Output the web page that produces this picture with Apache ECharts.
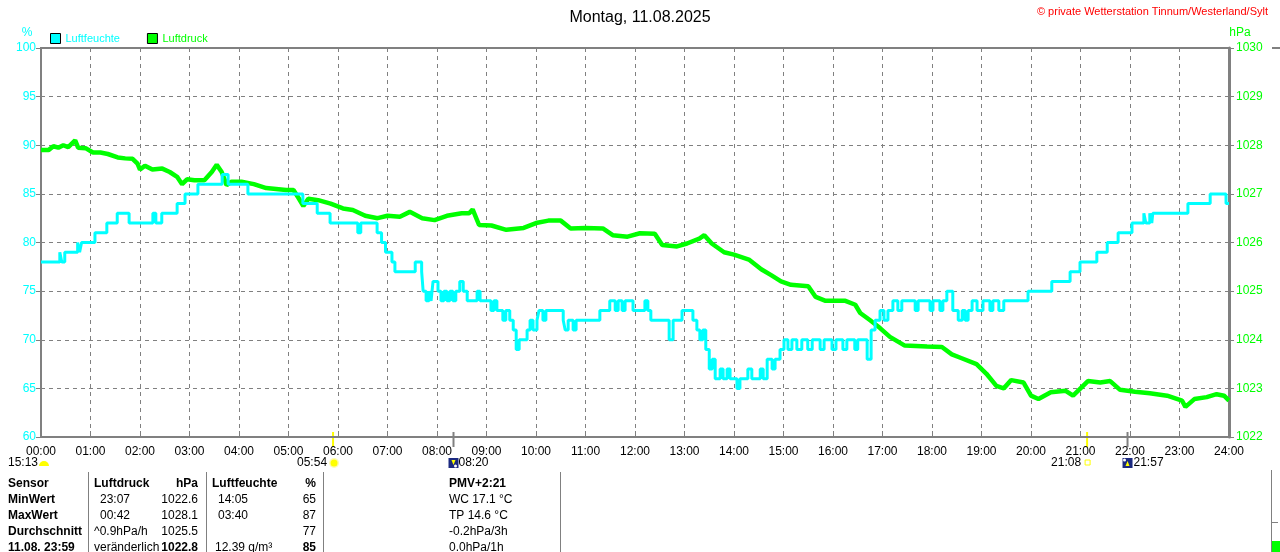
<!DOCTYPE html>
<html>
<head>
<meta charset="utf-8">
<title>Wetterstation Tinnum - Luftdruck / Luftfeuchte</title>
<script src="https://cdn.jsdelivr.net/npm/echarts@6.0.0/dist/echarts.min.js"></script>
<style>html,body{margin:0;padding:0;background:#fff;}</style>
</head>
<body>
<div id="main" style="width:1280px;height:552px;"></div>
<script type="text/javascript">
// Achsen-Beschriftung
var stunden = ['00:00','01:00','02:00','03:00','04:00','05:00','06:00','07:00','08:00','09:00','10:00','11:00','12:00',
  '13:00','14:00','15:00','16:00','17:00','18:00','19:00','20:00','21:00','22:00','23:00','24:00'];

// Luftfeuchte in %, [Stunde, Wert], Wert gilt bis zum naechsten Punkt
var feuchte = [
  [0,78],[0.38,79],[0.42,78],[0.48,79],[0.74,80],[0.78,79],[0.82,80],[1.09,81],[1.33,82],[1.54,83],[1.78,82],
  [2.26,83],[2.32,82],[2.44,83],[2.75,84],[2.91,85],[3.17,86],[3.66,87],[3.78,86],[4.18,85],[5.29,84],[5.58,83],
  [5.84,82],[6.40,81],[6.46,82],[6.79,81],[6.88,80],[6.96,79],[7.09,78],[7.15,77],[7.56,78],[7.69,77],[7.72,75],
  [7.78,74],[7.84,75],[7.88,74],[7.92,76],[8.02,75],[8.08,74],[8.14,75],[8.20,74],[8.26,75],[8.32,74],[8.38,75],
  [8.46,76],[8.53,75],[8.61,74],[8.81,75],[8.87,74],[9.09,73],[9.15,74],[9.21,73],[9.33,72],[9.39,73],[9.47,72],
  [9.54,71],[9.60,69],[9.66,70],[9.82,71],[9.88,72],[9.94,71],[10.02,72],[10.06,73],[10.14,72],[10.20,73],
  [10.55,72],[10.59,71],[10.65,72],[10.75,71],[10.81,72],[11.29,73],[11.49,74],[11.60,73],[11.66,74],[11.74,73],
  [11.80,74],[11.96,73],[12.20,74],[12.26,73],[12.32,72],[12.69,70],[12.77,72],[12.95,73],[13.17,72],[13.25,71],
  [13.31,70],[13.37,71],[13.43,69],[13.50,67],[13.56,68],[13.62,66],[13.72,67],[13.78,66],[13.86,67],[13.92,66],
  [14.06,65],[14.12,66],[14.28,67],[14.36,66],[14.53,67],[14.59,66],[14.67,68],[14.77,67],[14.83,68],[14.93,69],
  [15.01,70],[15.09,69],[15.17,70],[15.27,69],[15.37,70],[15.49,69],[15.58,70],[15.74,69],[15.82,70],[15.98,69],
  [16.06,70],[16.20,69],[16.28,70],[16.44,69],[16.50,70],[16.69,68],[16.77,71],[16.85,72],[16.95,73],[17.03,72],
  [17.11,73],[17.21,74],[17.31,73],[17.39,74],[17.66,73],[17.72,74],[17.96,73],[18.02,74],[18.16,73],[18.22,74],
  [18.30,75],[18.42,73],[18.53,72],[18.61,73],[18.67,72],[18.73,73],[18.81,74],[18.91,73],[19.03,74],[19.17,73],
  [19.23,74],[19.35,73],[19.45,74],[19.94,75],[20.42,76],[20.79,77],[20.99,78],[21.33,79],[21.54,80],[21.76,81],
  [22.04,82],[22.28,83],[22.32,82],[22.40,83],[22.44,82],[22.46,83],[23.17,84],[23.62,85],[23.94,84],[24,84]
];

// Luftdruck in hPa, [Stunde, Wert]
var luftdruck = [
  [0,1027.90],[0.15,1027.90],[0.25,1027.98],[0.35,1027.95],[0.45,1028.00],[0.55,1027.96],[0.69,1028.10],
  [0.75,1027.95],[0.90,1027.94],[1.05,1027.85],[1.20,1027.85],[1.35,1027.82],[1.55,1027.75],[1.70,1027.73],
  [1.85,1027.72],[1.95,1027.62],[2.00,1027.50],[2.10,1027.58],[2.25,1027.50],[2.45,1027.52],[2.60,1027.45],
  [2.75,1027.35],[2.85,1027.20],[2.95,1027.30],[3.10,1027.28],[3.30,1027.28],[3.45,1027.45],[3.55,1027.60],
  [3.65,1027.45],[3.75,1027.18],[3.85,1027.25],[4.05,1027.25],[4.30,1027.20],[4.55,1027.12],[4.75,1027.10],
  [4.95,1027.08],[5.10,1027.08],[5.20,1026.92],[5.30,1026.75],[5.40,1026.90],[5.60,1026.87],[5.85,1026.80],
  [6.10,1026.70],[6.30,1026.67],[6.55,1026.55],[6.80,1026.50],[7.00,1026.55],[7.25,1026.53],[7.45,1026.63],
  [7.70,1026.50],[7.95,1026.46],[8.20,1026.55],[8.50,1026.60],[8.65,1026.60],[8.72,1026.68],[8.85,1026.36],
  [9.10,1026.35],[9.40,1026.26],[9.75,1026.30],[10.00,1026.40],[10.25,1026.45],[10.50,1026.45],[10.70,1026.29],
  [11.00,1026.30],[11.35,1026.29],[11.55,1026.15],[11.85,1026.12],[12.10,1026.19],[12.40,1026.18],[12.55,1025.95],
  [12.85,1025.92],[13.05,1025.98],[13.30,1026.08],[13.40,1026.15],[13.55,1025.98],[13.80,1025.80],[14.00,1025.75],
  [14.30,1025.65],[14.55,1025.45],[14.75,1025.33],[14.95,1025.20],[15.15,1025.13],[15.50,1025.10],[15.65,1024.88],
  [15.85,1024.80],[16.25,1024.80],[16.45,1024.72],[16.55,1024.55],[16.75,1024.40],[16.95,1024.24],[17.15,1024.06],
  [17.45,1023.88],[17.90,1023.86],[18.20,1023.85],[18.40,1023.70],[18.60,1023.62],[18.90,1023.50],[19.10,1023.30],
  [19.30,1023.05],[19.45,1023.00],[19.60,1023.17],[19.85,1023.12],[20.00,1022.85],[20.15,1022.78],[20.40,1022.92],
  [20.70,1022.95],[20.85,1022.85],[21.00,1023.00],[21.15,1023.15],[21.40,1023.12],[21.60,1023.15],[21.80,1022.97],
  [22.10,1022.93],[22.40,1022.90],[22.75,1022.85],[23.05,1022.75],[23.12,1022.62],[23.30,1022.78],[23.55,1022.82],
  [23.75,1022.88],[23.90,1022.85],[24,1022.75]
];

// Sonne / Mond Zeiten unter der Zeitachse
var ereignisZeit = ['05:54', '08:20', '21:08', '21:57'];

// Tabelle unten
var tabKopf   = ['Sensor', 'Luftdruck', 'hPa', 'Luftfeuchte', '%', 'PMV+2:21'];
var tabMin    = ['MinWert', '23:07', '1022.6', '14:05', '65', 'WC 17.1 °C'];
var tabMax    = ['MaxWert', '00:42', '1028.1', '03:40', '87', 'TP 14.6 °C'];
var tabMittel = ['Durchschnitt', '^0.9hPa/h', '1025.5', '', '77', '-0.2hPa/3h'];
var tabAktuell = ['11.08. 23:59', 'veränderlich', '1022.8', '12.39 g/m³', '85', '0.0hPa/1h'];

var CYAN = '#00ffff', GRUEN = '#00ff00', GRAU = '#808080';
var FONT = 'Liberation Sans';

var myChart = echarts.init(document.getElementById('main'));

var option = {
  animation: false,
  backgroundColor: '#ffffff',
  title: {
    text: 'Montag, 11.08.2025',
    left: 'center',
    top: 5,
    textStyle: {color: '#000', fontSize: 16, fontWeight: 'normal', fontFamily: FONT}
  },
  legend: {
    left: 45,
    top: 28,
    itemWidth: 10,
    itemHeight: 10,
    itemGap: 27,
    icon: 'rect',
    textStyle: {fontSize: 11, fontFamily: FONT},
    data: [
      {name: 'Luftfeuchte', textStyle: {color: CYAN}, itemStyle: {color: CYAN, borderColor: '#000', borderWidth: 1}},
      {name: 'Luftdruck', textStyle: {color: GRUEN}, itemStyle: {color: GRUEN, borderColor: '#000', borderWidth: 1}}
    ]
  },
  grid: {
    left: 41, right: 51, top: 48, bottom: 115,
    containLabel: false,
    outerBoundsMode: 'none',
    show: true,
    borderColor: GRAU,
    borderWidth: 2
  },
  xAxis: {
    type: 'value',
    min: 0, max: 24, interval: 1,
    axisLine: {lineStyle: {color: GRAU, width: 2}},
    axisTick: {show: true, inside: true, length: 6, lineStyle: {color: GRAU}},
    axisLabel: {
      color: '#000', fontSize: 12, fontFamily: FONT, margin: 9,
      formatter: function (v) { return stunden[v]; }
    },
    splitLine: {show: true, lineStyle: {color: GRAU, type: [4, 4], width: 1}}
  },
  yAxis: [
    {
      type: 'value',
      min: 60, max: 100, interval: 5,
      position: 'left',
      axisLine: {show: true, lineStyle: {color: GRAU, width: 2}},
      axisTick: {show: true, length: 5, lineStyle: {color: GRAU}},
      axisLabel: {color: CYAN, fontSize: 12, fontFamily: FONT, margin: 5},
      splitLine: {show: true, lineStyle: {color: GRAU, type: [4, 4], width: 1}}
    },
    {
      type: 'value',
      min: 1022, max: 1030, interval: 1,
      position: 'right',
      axisLine: {show: true, lineStyle: {color: GRAU, width: 3}},
      axisTick: {show: true, length: 5, lineStyle: {color: GRAU}},
      axisLabel: {color: GRUEN, fontSize: 12, fontFamily: FONT, margin: 7,
        formatter: function (v) { return String(v); }},
      splitLine: {show: false}
    }
  ],
  series: [
    {
      name: 'Luftdruck',
      type: 'line',
      yAxisIndex: 1,
      data: luftdruck,
      showSymbol: false,
      smooth: false,
      color: GRUEN,
      lineStyle: {color: GRUEN, width: 4.5}
    },
    {
      name: 'Luftfeuchte',
      type: 'line',
      yAxisIndex: 0,
      data: feuchte,
      step: 'end',
      showSymbol: false,
      color: CYAN,
      lineStyle: {color: CYAN, width: 3}
    }
  ]
};

myChart.setOption(option);

function zuStunde(s) {
  var p = s.split(':');
  return +p[0] + (+p[1]) / 60;
}

function txt(x, y, s, opt) {
  opt = opt || {};
  return {
    type: 'text', x: x, y: y, silent: true,
    style: {
      text: s, fill: opt.color || '#000',
      font: (opt.bold ? 'bold ' : '') + (opt.size || 12) + 'px "' + FONT + '"',
      textAlign: opt.align || 'left', textVerticalAlign: 'middle'
    }
  };
}

var grafik = [];

// Achsen-Einheiten und Copyright
grafik.push(txt(27, 33, '%', {color: CYAN, align: 'center'}));
grafik.push(txt(1240, 33, 'hPa', {color: GRUEN, align: 'center'}));
grafik.push(txt(1268, 12, '© private Wetterstation Tinnum/Westerland/Sylt', {color: '#ff0000', size: 11, align: 'right'}));

// Sonne / Mond Marker
var mx = ereignisZeit.map(function (z) { return myChart.convertToPixel({xAxisIndex: 0}, zuStunde(z)); });
var markerFarbe = ['#ffff00', GRAU, '#ffff00', GRAU];
mx.forEach(function (x, i) {
  grafik.push({type: 'line', silent: true, shape: {x1: x, y1: 432, x2: x, y2: 447},
    style: {stroke: markerFarbe[i], lineWidth: 2}});
});
// 15:13 (links)
grafik.push(txt(8, 463, '15:13'));
grafik.push({type: 'sector', silent: true, shape: {cx: 44, cy: 466, r0: 0, r: 5, startAngle: Math.PI, endAngle: 2 * Math.PI},
  style: {fill: '#ffff00'}});
// 05:54 Sonnenaufgang
grafik.push(txt(mx[0] - 6, 463, ereignisZeit[0], {align: 'right'}));
grafik.push({type: 'circle', silent: true, shape: {cx: mx[0] + 1, cy: 463, r: 5}, style: {fill: '#fffbb0'}});
grafik.push({type: 'circle', silent: true, shape: {cx: mx[0] + 1, cy: 463, r: 3.5}, style: {fill: '#ffff00'}});
// 08:20 Mond
grafik.push({type: 'rect', silent: true, shape: {x: mx[1] - 5, y: 458, width: 10, height: 10}, style: {fill: '#1c2a80'}});
grafik.push({type: 'polygon', silent: true, shape: {points: [[mx[1] - 2, 460], [mx[1] + 2, 460], [mx[1], 465]]}, style: {fill: '#ffff00'}});
grafik.push({type: 'circle', silent: true, shape: {cx: mx[1] + 2, cy: 466, r: 1.5}, style: {fill: '#ffffff'}});
grafik.push(txt(mx[1] + 5, 463, ereignisZeit[1]));
// 21:08 Sonnenuntergang
grafik.push(txt(mx[2] - 6, 463, ereignisZeit[2], {align: 'right'}));
grafik.push({type: 'rect', silent: true, shape: {x: mx[2] - 2, y: 460, width: 5, height: 5}, style: {fill: 'none', stroke: '#ffff00', lineWidth: 1}});
// 21:57 Mondaufgang
grafik.push({type: 'rect', silent: true, shape: {x: mx[3] - 5, y: 458, width: 10, height: 10}, style: {fill: '#1c2a80'}});
grafik.push({type: 'polygon', silent: true, shape: {points: [[mx[3] - 2, 466], [mx[3] + 2, 466], [mx[3], 461]]}, style: {fill: '#ffff00'}});
grafik.push({type: 'circle', silent: true, shape: {cx: mx[3] - 3, cy: 460, r: 1.5}, style: {fill: '#ffffff'}});
grafik.push(txt(mx[3] + 6, 463, ereignisZeit[3]));

// Tabelle
var zeilenY = [484, 500, 516, 532, 548];
var zeilen = [tabKopf, tabMin, tabMax, tabMittel, tabAktuell];
zeilen.forEach(function (z, i) {
  var y = zeilenY[i];
  var kopf = i === 0, akt = i === 4;
  grafik.push(txt(8, y, z[0], {bold: true}));
  var x1 = (i === 1 || i === 2) ? 100 : 94;
  grafik.push(txt(x1, y, z[1], {bold: kopf}));
  grafik.push(txt(198, y, z[2], {bold: kopf || akt, align: 'right'}));
  var x3 = (i === 1 || i === 2) ? 218 : (akt ? 215 : 212);
  grafik.push(txt(x3, y, z[3], {bold: kopf}));
  grafik.push(txt(316, y, z[4], {bold: kopf || akt, align: 'right'}));
  grafik.push(txt(449, y, z[5], {bold: kopf}));
});
[88, 206, 323, 560].forEach(function (x) {
  grafik.push({type: 'line', silent: true, shape: {x1: x + 0.5, y1: 472, x2: x + 0.5, y2: 552}, style: {stroke: GRAU, lineWidth: 1}});
});

// kleine Skala ganz rechts
grafik.push({type: 'line', silent: true, shape: {x1: 1272, y1: 48, x2: 1280, y2: 48}, style: {stroke: GRAU, lineWidth: 2}});
grafik.push({type: 'line', silent: true, shape: {x1: 1271.5, y1: 470, x2: 1271.5, y2: 552}, style: {stroke: GRAU, lineWidth: 1}});
grafik.push({type: 'line', silent: true, shape: {x1: 1272, y1: 522.5, x2: 1278, y2: 522.5}, style: {stroke: GRAU, lineWidth: 1}});
grafik.push({type: 'rect', silent: true, shape: {x: 1272, y: 541, width: 8, height: 11}, style: {fill: GRUEN}});

myChart.setOption({graphic: grafik});
</script>
</body>
</html>
